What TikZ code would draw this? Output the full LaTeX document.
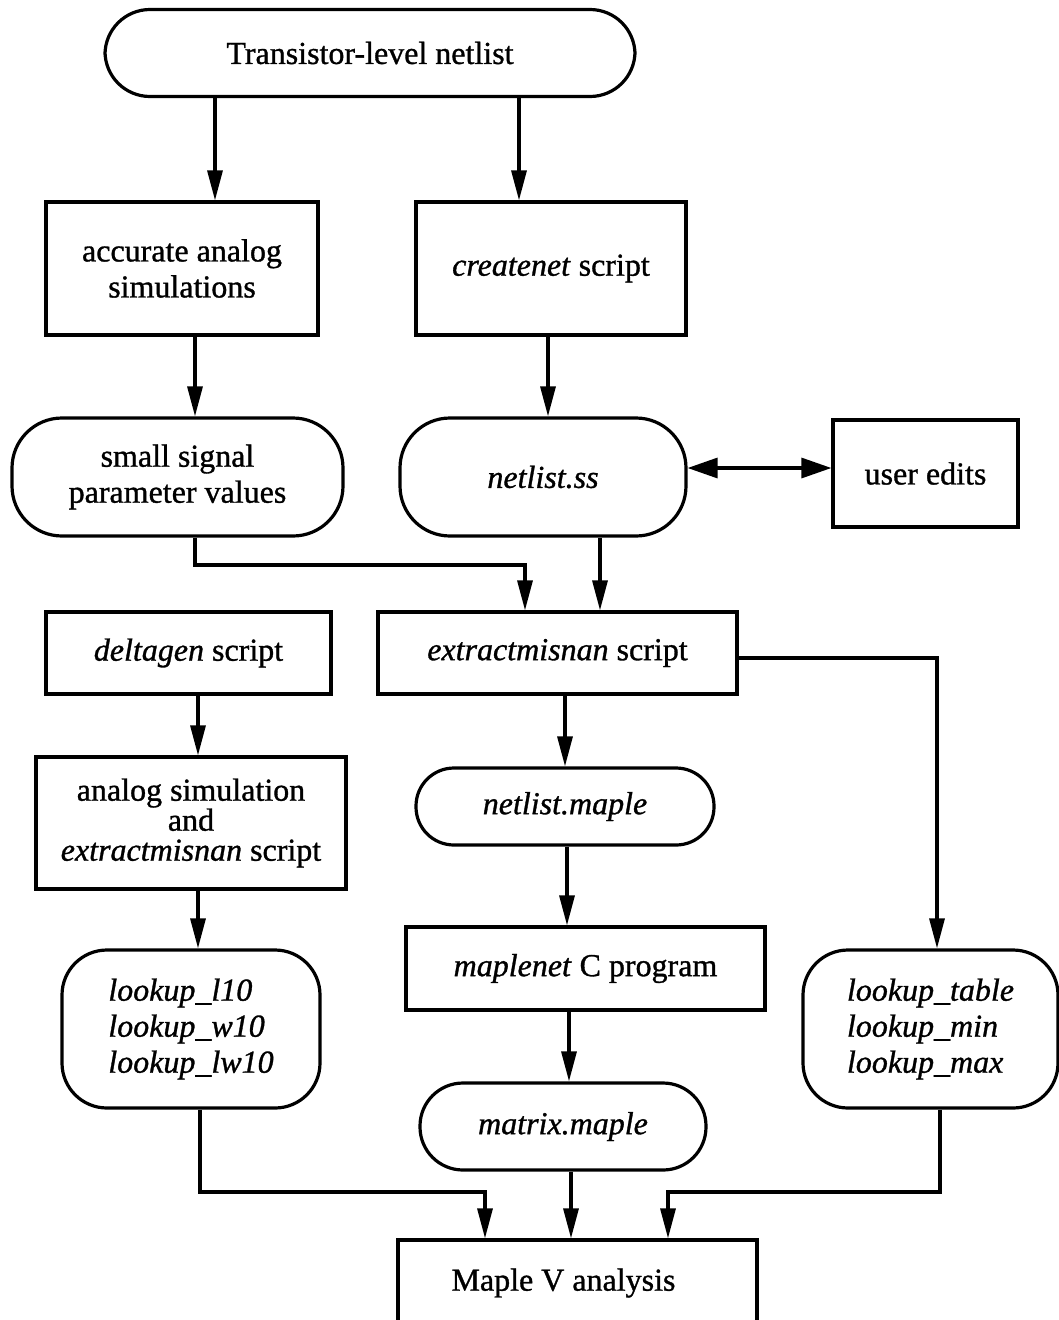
\documentclass[tikz,border=0pt]{standalone}
\usepackage{fontspec}
\setmainfont[FakeBold=1]{Liberation Serif}
\usetikzlibrary{arrows.meta}

\begin{document}
\begin{tikzpicture}[x=1pt,y=-1pt,
  base/.style={draw, line width=3.2pt, align=center, inner sep=0pt,
    font=\fontsize{32}{36}\selectfont},
  boxnode/.style={base},
  roundnode/.style={base, rounded corners=45pt},
  link/.style={line width=3.2pt, -{Triangle[length=30pt,width=15pt]}},
  dlink/.style={line width=3.2pt, {Triangle[length=30pt,width=20pt]}-{Triangle[length=30pt,width=20pt]}}]
\useasboundingbox (0,0) rectangle (1058,1320);

% nodes
\node[roundnode, minimum width=530pt, minimum height=87pt] (top) at (370,53) {Transistor-level netlist};
\node[boxnode, minimum width=272pt, minimum height=133pt] (acc) at (182,268.5) {accurate analog\\simulations};
\node[boxnode, minimum width=270pt, minimum height=133pt] (cre) at (551,268.5) {\textit{createnet} script};
\node[roundnode, rounded corners=50pt, minimum width=331pt, minimum height=118pt] (sss) at (177.5,477) {small signal\\parameter values};
\node[roundnode, rounded corners=50pt, minimum width=286pt, minimum height=118pt] (nss) at (543,477) {\textit{netlist.ss}};
\node[boxnode, minimum width=185pt, minimum height=107pt] (usr) at (925.5,473.5) {user edits};
\node[boxnode, minimum width=285pt, minimum height=82pt] (del) at (188.5,653) {\textit{deltagen} script};
\node[boxnode, minimum width=359pt, minimum height=82pt] (ext) at (557.5,653) {\textit{extractmisnan} script};
\node[boxnode, minimum width=310pt, minimum height=132pt, font=\fontsize{32}{30}\selectfont] (ana) at (191,823) {analog simulation\\and\\\textit{extractmisnan} script};
\node[roundnode, rounded corners=38pt, minimum width=298pt, minimum height=77pt] (nmp) at (565,806.5) {\textit{netlist.maple}};
\node[boxnode, minimum width=359pt, minimum height=83pt] (mcp) at (585.5,968.5) {\textit{maplenet} C program};
\node[roundnode, align=left, minimum width=258pt, minimum height=158pt] (lkl) at (191,1029) {\textit{lookup\_l10}\\\textit{lookup\_w10}\\\textit{lookup\_lw10}};
\node[roundnode, align=left, minimum width=255pt, minimum height=158pt] (lkt) at (930.5,1029) {\textit{lookup\_table}\\\textit{lookup\_min}\\\textit{lookup\_max}};
\node[roundnode, rounded corners=43pt, minimum width=286pt, minimum height=87pt] (mxm) at (563,1126.5) {\textit{matrix.maple}};
\node[boxnode, minimum width=359pt, minimum height=86pt] (mva) at (577.5,1283) {\hspace*{-28pt}Maple V analysis};

% connectors
\draw[link] (top.south -| 215,0) -- (acc.north -| 215,0);
\draw[link] (top.south -| 519,0) -- (cre.north -| 519,0);
\draw[link] (acc.south -| 195,0) -- (sss.north -| 195,0);
\draw[link] (cre.south -| 548,0) -- (nss.north -| 548,0);
\draw[dlink] (nss.east |- 0,468) -- (usr.west |- 0,468);
\draw[link] (sss.south -| 195,0) -- (195,565) -| (ext.north -| 525,0);
\draw[link] (nss.south -| 600,0) -- (ext.north -| 600,0);
\draw[link] (ext.east |- 0,658) -| (lkt.north -| 937,0);
\draw[link] (del.south -| 198,0) -- (ana.north -| 198,0);
\draw[link] (ext.south -| 565,0) -- (nmp.north -| 565,0);
\draw[link] (nmp.south -| 567,0) -- (mcp.north -| 567,0);
\draw[link] (ana.south -| 198,0) -- (lkl.north -| 198,0);
\draw[link] (mcp.south -| 569,0) -- (mxm.north -| 569,0);
\draw[link] (lkl.south -| 200,0) -- (200,1192) -| (mva.north -| 485,0);
\draw[link] (mxm.south -| 571,0) -- (mva.north -| 571,0);
\draw[link] (lkt.south -| 940,0) -- (940,1192) -| (mva.north -| 668,0);
\end{tikzpicture}
\end{document}
